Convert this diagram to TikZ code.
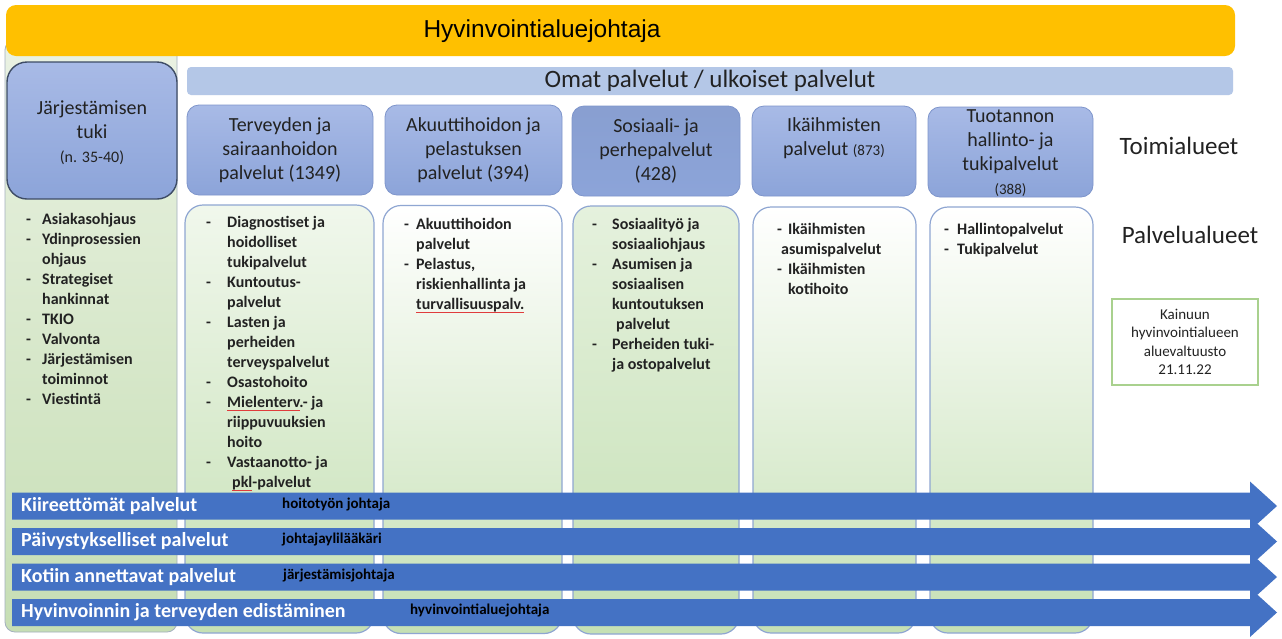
\documentclass[tikz,border=0pt]{standalone}
\usepackage{fontspec}
\setmainfont{Carlito}
\newfontfamily\arialfont{Liberation Sans}

\definecolor{chiefyellow}{HTML}{FFC000}
\definecolor{ownblue}{HTML}{B4C7E7}
\definecolor{unittop}{HTML}{A8BAE6}
\definecolor{unitbot}{HTML}{8CA4D9}
\definecolor{unitline}{HTML}{7E95CB}
\definecolor{supportline}{HTML}{3E4C66}
\definecolor{areagreen}{HTML}{C5E0B4}
\definecolor{arealine}{HTML}{8FA6D2}
\definecolor{paneltop}{HTML}{EAF2E3}
\definecolor{panelbot}{HTML}{C6DEB4}
\definecolor{panelline}{HTML}{A3AFBF}
\definecolor{laneblue}{HTML}{4472C4}
\definecolor{notegreen}{HTML}{A9D18E}
\definecolor{spellred}{HTML}{E03C3C}
\definecolor{ink}{HTML}{222222}

\newcommand\fsz[2]{\fontsize{#1pt}{#2pt}\selectfont}
\newlength\dw
\newcommand\di{\makebox[\dw][l]{-}}
\newcommand\dc{\hspace*{\dw}}
\newcommand\spell[1]{\sbox0{#1}\rlap{\color{spellred}\rule[-3pt]{\wd0}{0.8pt}}#1}

\begin{document}
\begin{tikzpicture}[x=1pt,y=-1pt,
    plainbox/.style={inner sep=0pt, outer sep=0pt},
    unitbox/.style={plainbox, draw=unitline, line width=0.8pt, rounded corners=12pt,
      top color=unittop, bottom color=unitbot},
    areabox/.style={plainbox, draw=arealine, line width=1.2pt, rounded corners=18pt,
      top color=white, bottom color=areagreen},
    unittext/.style={align=center, text=ink, font=\fsz{20}{24}},
    listtext/.style={anchor=north west, align=left, inner sep=0pt, text=ink,
      font=\fsz{16}{20}\bfseries, execute at begin node={\setlength\dw{#1}}},
    sidetext/.style={text=ink, font=\fsz{25}{30}},
    lanetext/.style={anchor=west, inner sep=0pt, text=white, font=\fsz{20}{24}\bfseries},
    leadtext/.style={anchor=west, inner sep=0pt, text=black, font=\fsz{15}{18}\bfseries}]

  \useasboundingbox (0,0) rectangle (1282,638);
  \fill[white] (0,0) rectangle (1282,638);

  % Left column panel (Järjestämisen tuki)
  \node[plainbox, draw=panelline, line width=0.8pt, rounded corners=10pt,
        top color=paneltop, bottom color=panelbot,
        minimum width=172pt, minimum height=592pt] (panel) at (91,336) {};

  % Top bar
  \node[plainbox, fill=chiefyellow, rounded corners=10pt,
        minimum width=1229pt, minimum height=51pt] (chief) at (620.5,30.5) {};
  \node[text=black, font=\arialfont\fsz{24.5}{28}] (chieftxt) at (542,31) {Hyvinvointialuejohtaja};

  % Own / external services bar
  \node[plainbox, fill=ownblue, rounded corners=4pt,
        minimum width=1046pt, minimum height=28pt, text=ink, font=\fsz{25}{30}] (own) at (710,81)
        {Omat palvelut / ulkoiset palvelut};

  % Support box
  \node[plainbox, draw=supportline, line width=1.4pt, rounded corners=20pt,
        top color=unittop, bottom color=unitbot,
        minimum width=170pt, minimum height=137pt] (support) at (92,130.5) {};
  \node[unittext] (supporttxt) at (92,133) {Järjestämisen\\tuki\\{\fsz{16}{20}(n. 35-40)}};

  % ==== Toimialueet ====
  \node[unitbox, minimum width=186pt, minimum height=90pt, unittext] (unit1) at (280,150)
        {Terveyden ja\\sairaanhoidon\\palvelut (1349)};
  \node[unitbox, minimum width=177pt, minimum height=90pt, unittext] (unit2) at (473.5,150)
        {Akuuttihoidon ja\\pelastuksen\\palvelut (394)};
  \node[unitbox, minimum width=168pt, minimum height=90pt, unittext,
        top color=unitbot!95!black!90!unittop, bottom color=unitbot] (unit3) at (656,151)
        {Sosiaali- ja\\perhepalvelut\\(428)};
  \node[unitbox, minimum width=164pt, minimum height=90pt] (unit4) at (834,151) {};
  \node[unittext] (unit4txt) at (834,138) {Ikäihmisten\\palvelut {\fsz{15}{18}(873)}};
  \node[unitbox, minimum width=165pt, minimum height=90pt] (unit5) at (1010.5,152) {};
  \node[unittext] (unit5txt) at (1010.5,153)
        {Tuotannon\\hallinto- ja\\tukipalvelut\\{\fsz{15}{18}(388)}};

  % ==== Palvelualueet ====
  \node[areabox, minimum width=189pt, minimum height=428pt, top color=areagreen!25] (area1) at (279.5,419) {};
  \node[areabox, minimum width=179pt, minimum height=428pt] (area2) at (472.5,419.5) {};
  \node[areabox, minimum width=166pt, minimum height=428pt, top color=areagreen!45] (area3) at (656,420) {};
  \node[areabox, minimum width=163pt, minimum height=426pt] (area4) at (834.5,420) {};
  \node[areabox, minimum width=163pt, minimum height=426pt] (area5) at (1011.5,420) {};

  % Side labels
  \node[sidetext] (units) at (1179,146) {Toimialueet};
  \node[sidetext] (areas) at (1190,235) {Palvelualueet};
  \node[plainbox, draw=notegreen, line width=1.5pt, fill=white,
        minimum width=146pt, minimum height=86pt,
        align=center, text=ink, font=\fsz{15}{18.3}] (council) at (1185,342)
        {Kainuun\\hyvinvointialueen\\aluevaltuusto\\21.11.22};

  % Lists
  \node[listtext=16pt] (supportlist) at (26,213.5)
        {\di Asiakasohjaus\\ \di Ydinprosessien\\ \dc ohjaus\\ \di Strategiset\\ \dc hankinnat\\
         \di TKIO\\ \di Valvonta\\ \di Järjestämisen\\ \dc toiminnot\\ \di Viestintä};
  \node[listtext=21pt] (list1) at (206,216.5)
        {\di Diagnostiset ja\\ \dc hoidolliset\\ \dc tukipalvelut\\ \di Kuntoutus-\\ \dc palvelut\\
         \di Lasten ja\\ \dc perheiden\\ \dc terveyspalvelut\\ \di Osastohoito\\
         \di \spell{Mielenterv}.- ja\\ \dc riippuvuuksien\\ \dc hoito\\ \di Vastaanotto- ja\\
         \dc\hspace*{5pt}\spell{pkl}-palvelut};
  \node[listtext=12pt] (list2) at (404,218.5)
        {\di Akuuttihoidon\\ \dc palvelut\\ \di Pelastus,\\ \dc riskienhallinta ja\\
         \dc\spell{turvallisuuspalv.}};
  \node[listtext=20pt] (list3) at (592,218.5)
        {\di Sosiaalityö ja\\ \dc sosiaaliohjaus\\ \di Asumisen ja\\ \dc sosiaalisen\\
         \dc kuntoutuksen\\ \dc\hspace*{4pt}palvelut\\ \di Perheiden tuki-\\ \dc ja ostopalvelut};
  \node[listtext=11pt] (list4) at (777,223.5)
        {\di Ikäihmisten\\ \hspace*{4pt}asumispalvelut\\ \di Ikäihmisten\\ \dc kotihoito};
  \node[listtext=13pt] (list5) at (944,223.5)
        {\di Hallintopalvelut\\ \di Tukipalvelut};

  % ==== Cross-cutting lanes ====
  \foreach \yc/\lbl/\who/\wx [count=\i] in
      {506/Kiireettömät palvelut/hoitotyön johtaja/282,
       541.5/Päivystykselliset palvelut/johtajaylilääkäri/282,
       577/Kotiin annettavat palvelut/järjestämisjohtaja/283,
       612.5/Hyvinvoinnin ja terveyden edistäminen/hyvinvointialuejohtaja/410}{
    \fill[laneblue] (12,\yc-13.5) -- (1250,\yc-13.5) -- (1250,\yc-24.5) -- (1277,\yc)
      -- (1250,\yc+24.5) -- (1250,\yc+13.5) -- (12,\yc+13.5) -- cycle;
    \node[lanetext] (lane\i) at (21,\yc) {\lbl};
    \node[leadtext] (lead\i) at (\wx,\yc-2) {\who};
  }

\end{tikzpicture}
\end{document}
